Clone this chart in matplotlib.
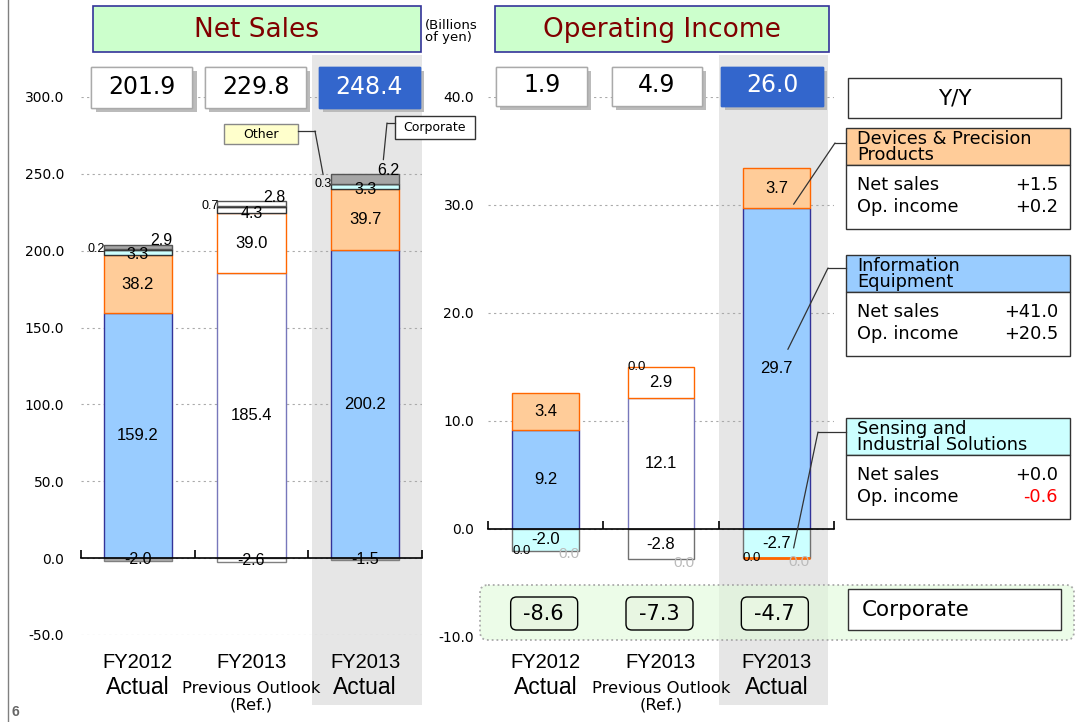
import numpy as np
import matplotlib
matplotlib.use('Agg')
import matplotlib.pyplot as plt
import matplotlib.patheffects as pe
from matplotlib.patches import Rectangle, FancyBboxPatch, ConnectionPatch

plt.rcParams['font.family'] = ['Liberation Sans', 'DejaVu Sans']

W, H = 1079, 722

# ---- data (billions of yen) ----
years = ['FY2012', 'FY2013', 'FY2013']
kinds = ['Actual', 'Previous Outlook\n(Ref.)', 'Actual']

ns_total = [201.9, 229.8, 248.4]
ns_ie = [159.2, 185.4, 200.2]
ns_dpp = [38.2, 39.0, 39.7]
ns_sis = [3.3, 4.3, 3.3]
ns_other = [0.2, 0.7, 0.3]
ns_corp = [2.9, 2.8, 6.2]
ns_elim = [-2.0, -2.6, -1.5]

oi_total = [1.9, 4.9, 26.0]
oi_ie = [9.2, 12.1, 29.7]
oi_dpp = [3.4, 2.9, 3.7]
oi_sis = [-2.0, -2.8, -2.7]
oi_other = [0.0, 0.0, 0.0]
oi_elim = [0.0, 0.0, 0.0]
oi_corp = [-8.6, -7.3, -4.7]

seg_names = ['Devices & Precision\nProducts', 'Information\nEquipment',
             'Sensing and\nIndustrial Solutions']
yy_sales = [1.5, 41.0, 0.0]
yy_oi = [0.2, 20.5, -0.6]

# ---- colours ----
BLUE, ORANGE, CYAN, GRAY = '#99CCFF', '#FFCC99', '#CCFFFF', '#A6A6A6'
NAVY, ORG_EDGE = '#333399', '#FF6600'
HEAD = ['#FFCC99', '#99CCFF', '#CCFFFF']


def fills(c):
    return [c, 'white', c]


fig = plt.figure(figsize=(W / 100, H / 100), dpi=100)
fig.patch.set_facecolor('white')

bg = fig.add_axes([0, 0, 1, 1], zorder=0)
ov = fig.add_axes([0, 0, 1, 1], zorder=5)
for a in (bg, ov):
    a.set_xlim(0, W)
    a.set_ylim(H, 0)
    a.axis('off')

ax1 = fig.add_axes([81 / W, 1 - 635 / H, 341 / W, 538 / H], zorder=1)
ax2 = fig.add_axes([488 / W, 1 - 637 / H, 346 / W, 540 / H], zorder=1)

x = np.arange(3)


def to_px(ax, xv, yv=0):
    return ov.transData.inverted().transform(ax.transData.transform((xv, yv)))


def setup(ax, lo, hi, step, pad):
    ax.patch.set_visible(False)
    ax.set_xlim(-0.5, 2.5)
    ax.set_ylim(lo, hi)
    ticks = np.arange(lo, hi + step / 2, step)
    ax.set_yticks(ticks)
    ax.set_yticklabels([f'{t:.1f}' for t in ticks], fontsize=10, family='DejaVu Sans')
    ax.set_xticks([-0.5, 0.5, 1.5, 2.5])
    ax.set_xticklabels([])
    ax.tick_params(axis='y', length=0, pad=pad)
    ax.tick_params(axis='x', direction='in', length=6, width=1.2, color='black')
    for s in ('left', 'right', 'top'):
        ax.spines[s].set_visible(False)
    ax.spines['bottom'].set_position(('data', 0))
    ax.spines['bottom'].set_linewidth(1.2)
    ax.spines['bottom'].set_zorder(4)
    ax.yaxis.grid(True, color='#AAAAAA', lw=0.8, ls=(0, (2, 3)))
    ax.set_axisbelow(True)


setup(ax1, -50, 300, 50, 12)
setup(ax2, -10, 40, 10, 10)

# shaded column behind FY2013 Actual
for ax, x0, x1 in ((ax1, 1.53, 2.5), (ax2, 1.5, 2.45)):
    p0, p1 = to_px(ax, x0)[0], to_px(ax, x1)[0]
    bg.add_patch(Rectangle((p0, 55), p1 - p0, 650, fc='#E6E6E6', ec='none'))

# ---- net sales bars ----
w1 = 0.6
layers = [(ns_ie, fills(BLUE), ['#333399', '#7777BB', '#333399']),
          (ns_dpp, fills(ORANGE), ORG_EDGE),
          (ns_sis, fills(CYAN), '#333333'),
          (ns_other, 'white', '#333333'),
          (ns_corp, fills(GRAY), '#555555')]
bottom = np.zeros(3)
tops = []
for vals, fc, ec in layers:
    ax1.bar(x, vals, w1, bottom=bottom, color=fc, edgecolor=ec, lw=1, zorder=3)
    bottom = bottom + np.array(vals)
    tops.append(bottom.copy())
ax1.bar(x, ns_elim, w1, color=['#B0B0B0', 'white', '#B0B0B0'], edgecolor='#808080',
        lw=1, zorder=3)

for i in x:
    ax1.text(i, ns_ie[i] / 2, f'{ns_ie[i]:.1f}', ha='center', va='center', size=12, zorder=6)
    ax1.text(i, ns_ie[i] + ns_dpp[i] / 2, f'{ns_dpp[i]:.1f}', ha='center', va='center',
             size=12, zorder=6)
    ax1.text(i, tops[1][i], f'{ns_sis[i]:.1f}', ha='center', va='center', size=11.5, zorder=6)
    ax1.text(i - w1 / 2 + 0.01, tops[3][i], f'{ns_other[i]:.1f}', ha='right', va='center',
             size=9, zorder=6)
    ax1.annotate(f'{ns_corp[i]:.1f}', (i + w1 / 2, tops[4][i]), xytext=(0, 3),
                 textcoords='offset points', ha='right', va='center', size=11.5, zorder=6)
    ax1.text(i, ns_elim[i] / 2, f'{ns_elim[i]:.1f}', ha='center', va='center', size=11.5,
             zorder=6)

# ---- operating income bars ----
w2 = 0.58
ax2.bar(x, oi_ie, w2, color=fills(BLUE), edgecolor=['#333399', '#7777BB', '#333399'],
        lw=1, zorder=3)
ax2.bar(x, oi_dpp, w2, bottom=oi_ie, color=fills(ORANGE), edgecolor=ORG_EDGE, lw=1, zorder=3)
ax2.bar(x, oi_sis, w2, color=fills(CYAN), edgecolor='#707070', lw=1, zorder=3)
ax2.bar(x, [0, 0, 0], w2, bottom=oi_sis, color='none',
        edgecolor=['none', 'none', ORG_EDGE], lw=2, zorder=3)

for i in x:
    ax2.text(i, oi_ie[i] / 2, f'{oi_ie[i]:.1f}', ha='center', va='center', size=12, zorder=6)
    ax2.text(i, oi_ie[i] + oi_dpp[i] / 2, f'{oi_dpp[i]:.1f}', ha='center', va='center',
             size=12, zorder=6)
    ax2.text(i, oi_sis[i] / 2, f'{oi_sis[i]:.1f}', ha='center', va='center', size=12,
             zorder=6)
    oy = oi_ie[i] + oi_dpp[i] if i == 1 else oi_sis[i]
    ax2.text(i - w2 / 2, oy, f'{oi_other[i]:.1f}', ha='left', va='center', size=9.5, zorder=6)
    ax2.annotate(f'{oi_elim[i]:.1f}', (i + w2 / 2, oi_sis[i]), xytext=(0, -2.5),
                 textcoords='offset points', ha='right', va='center', size=11,
                 color='#BBBBBB', zorder=6)

# ---- title boxes ----
for x0, x1, title in ((93, 421, 'Net Sales'), (495, 829, 'Operating Income')):
    ov.add_patch(Rectangle((x0, 6), x1 - x0, 46, fc='#CCFFCC', ec='#333399', lw=1.2))
    ov.text((x0 + x1) / 2, 30, title, ha='center', va='center', size=19, color='#800000',
            family='DejaVu Sans')
ov.text(425, 19, '(Billions\nof yen)', ha='left', va='top', size=9.5, linespacing=0.9,
        family='DejaVu Sans')

# ---- total boxes ----
shadow = [pe.withSimplePatchShadow(offset=(3, -3), shadow_rgbFace='#BBBBBB', alpha=1),
          pe.Normal()]
for ax, totals, widths, dx, h in ((ax1, ns_total, [101, 101, 101], 4, 41),
                                  (ax2, oi_total, [91, 90, 102], -4, 39)):
    for i, v in enumerate(totals):
        cx = to_px(ax, i)[0] + dx
        last = i == 2
        r = Rectangle((cx - widths[i] / 2, 67), widths[i], h,
                      fc='#3366CC' if last else 'white',
                      ec='#3366CC' if last else '#AAAAAA', lw=1, path_effects=shadow)
        ov.add_patch(r)
        ov.text(cx, 67 + h / 2 - 1, f'{v:.1f}', ha='center', va='center', size=17,
                color='white' if last else 'black', family='DejaVu Sans')

# ---- category labels ----
for ax in (ax1, ax2):
    for i in x:
        cx = to_px(ax, i)[0]
        ov.text(cx, 663, years[i], ha='center', va='center', size=14.5)
        if i == 1:
            ov.text(cx, 697, kinds[i], ha='center', va='center', size=11.8,
                    family='DejaVu Sans', linespacing=1.1)
        else:
            ov.text(cx, 687, kinds[i], ha='center', va='center', size=16.5)

# ---- Other / Corporate callouts (net sales) ----
ov.add_patch(Rectangle((224, 124), 74, 20, fc='#FFFFCC', ec='#888888', lw=1))
ov.text(261, 134, 'Other', ha='center', va='center', size=9, family='DejaVu Sans')
ov.plot([298, 315], [131, 131], color='#333333', lw=0.9)
fig.add_artist(ConnectionPatch((315, 131), (2 - 0.37, tops[3][2] + 6), ov.transData,
                               ax1.transData, color='#333333', lw=0.9, zorder=7))
ov.add_patch(Rectangle((395, 116), 80, 23, fc='white', ec='#333333', lw=1))
ov.text(435, 128, 'Corporate', ha='center', va='center', size=9, family='DejaVu Sans')
ov.plot([387, 395], [123, 123], color='#333333', lw=0.9)
fig.add_artist(ConnectionPatch((387, 123), (2.16, tops[4][2] + 9.5), ov.transData,
                               ax1.transData, color='#333333', lw=0.9, zorder=7))

# ---- Y/Y panel ----
ov.add_patch(Rectangle((848, 78), 213, 40, fc='white', ec='#333333', lw=1))
ov.text(955, 99, 'Y/Y', ha='center', va='center', size=15.5, family='DejaVu Sans')

box_tops = [128, 255, 418]
for k, top in enumerate(box_tops):
    ov.add_patch(Rectangle((846, top), 224, 37, fc=HEAD[k], ec='#333333', lw=1))
    ov.add_patch(Rectangle((846, top + 37), 224, 64, fc='white', ec='#333333', lw=1))
    ov.text(857, top + 19, seg_names[k], ha='left', va='center', size=12.8,
            family='DejaVu Sans', linespacing=0.8)
    ov.text(857, top + 57, 'Net sales', ha='left', va='center', size=12.8,
            family='DejaVu Sans')
    ov.text(857, top + 79, 'Op. income', ha='left', va='center', size=12.8,
            family='DejaVu Sans')
    for dy, v in ((57, yy_sales[k]), (79, yy_oi[k])):
        ov.text(1058, top + dy, f'{v:+.1f}', ha='right', va='center', size=12.8,
                family='DejaVu Sans', color='#FF0000' if v < 0 else 'black')

# leader lines to the operating income segments
leaders = [(143, 835, (2.15, oi_ie[2] + 0.1 * oi_dpp[2])),
           (268, 828, (2.1, oi_ie[2] * 0.56)),
           (432, 818, (2.15, oi_sis[2] * 0.65))]
for y, xb, pt in leaders:
    ov.plot([xb, 846], [y, y], color='#333333', lw=0.9)
    fig.add_artist(ConnectionPatch((xb, y), pt, ov.transData, ax2.transData,
                                   color='#333333', lw=0.9, zorder=7))

# ---- corporate row ----
ov.add_patch(FancyBboxPatch((480, 585), 594, 55, boxstyle='round,pad=0,rounding_size=8',
                            fc=(0.88, 0.98, 0.85, 0.6), ec='#AAAAAA', ls=':', lw=1.3))
for i, v in enumerate(oi_corp):
    cx = to_px(ax2, i)[0] - 2
    ov.add_patch(FancyBboxPatch((cx - 33, 597), 67, 33, boxstyle='round,pad=0,rounding_size=6',
                                fc='#E8F6E2', ec='black', lw=1))
    ov.text(cx, 614, f'{v:.1f}', ha='center', va='center', size=15, family='DejaVu Sans')
ov.add_patch(Rectangle((848, 589), 213, 41, fc='white', ec='#333333', lw=1))
ov.text(862, 610, 'Corporate', ha='left', va='center', size=15.5, family='DejaVu Sans')

# slide border and page number
bg.plot([8, 8], [0, H], color='#808080', lw=1)
ov.text(12, 712, '6', ha='left', va='center', size=10, fontweight='bold', color='#666666')

fig.savefig('out.png', dpi=100)
